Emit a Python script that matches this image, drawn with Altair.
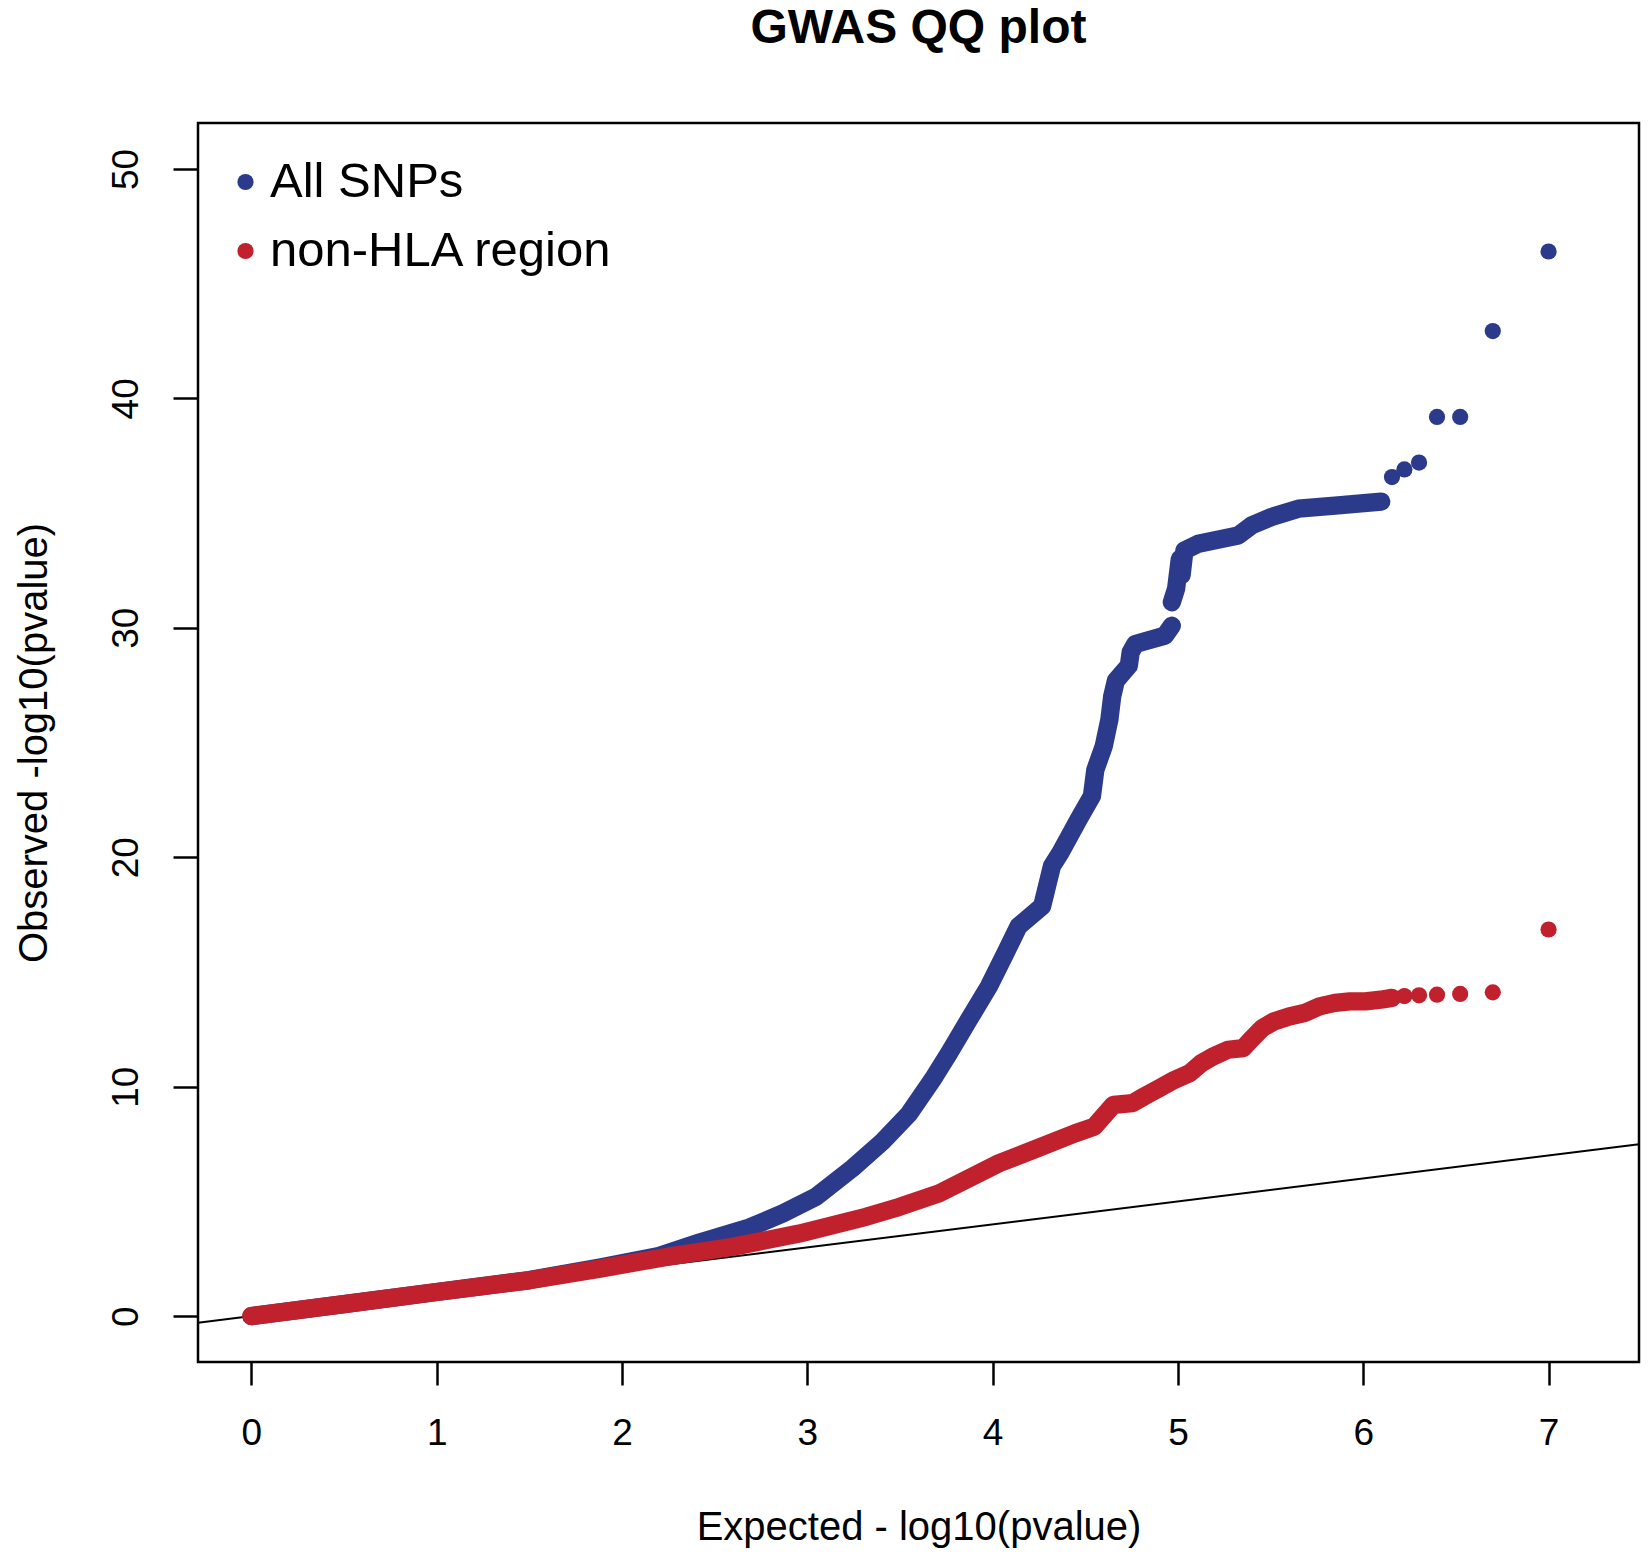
import altair as alt
import pandas as pd

# ---- data ----
series_names = ["All SNPs", "non-HLA region"]
series_colors = ["#2B3A8B", "#C1202D"]

# All SNPs: dense band, first stretch
all_band1_x = [0, 0.5, 1.0, 1.5, 1.881, 2.2, 2.419, 2.688, 2.867, 3.047, 3.244, 3.405,
               3.548, 3.675, 3.765, 3.872, 3.98, 4.07, 4.14, 4.267, 4.32, 4.366, 4.464,
               4.536, 4.554, 4.60, 4.63, 4.645, 4.665, 4.735, 4.745, 4.77, 4.93, 4.967]
all_band1_y = [0, 0.52, 1.05, 1.57, 2.12, 2.62, 3.21, 3.86, 4.47, 5.2, 6.45, 7.6,
               8.81, 10.30, 11.46, 12.92, 14.37, 15.83, 16.99, 17.86, 19.61, 20.2, 21.65,
               22.67, 23.8, 24.85, 26.0, 27.0, 27.69, 28.35, 28.93, 29.29, 29.66, 30.09]
# All SNPs: dense band, second stretch (after the small gap)
all_band2_x = [4.967, 4.99, 5.02, 5.01, 5.035, 5.11, 5.325, 5.397, 5.505, 5.65, 5.864, 6.097]
all_band2_y = [31.11, 31.7, 32.3, 33.0, 33.37, 33.66, 34.02, 34.46, 34.83, 35.19, 35.33, 35.5]
# All SNPs: isolated top points
all_pts_x = [6.155, 6.222, 6.301, 6.398, 6.523, 6.699, 7.0]
all_pts_y = [36.57, 36.9, 37.2, 39.19, 39.19, 42.93, 46.4]

# non-HLA region: dense band
hla_band_x = [0, 0.5, 1.0, 1.5, 1.881, 2.24, 2.6, 2.957, 3.317, 3.496, 3.711, 4.034,
              4.24, 4.446, 4.549, 4.652, 4.755, 4.817, 4.899, 4.982, 5.064, 5.126, 5.188,
              5.27, 5.352, 5.393, 5.455, 5.517, 5.6, 5.682, 5.764, 5.847, 5.929, 6.011,
              6.094, 6.155]
hla_band_y = [0, 0.52, 1.05, 1.56, 2.07, 2.58, 3.02, 3.60, 4.33, 4.76, 5.35, 6.66,
              7.31, 7.97, 8.26, 9.21, 9.28, 9.57, 9.93, 10.30, 10.59, 11.02, 11.31,
              11.61, 11.68, 12.04, 12.55, 12.84, 13.06, 13.21, 13.50, 13.65, 13.72, 13.72,
              13.79, 13.87]
# non-HLA region: isolated top points
hla_pts_x = [6.222, 6.301, 6.398, 6.523, 6.699, 7.0]
hla_pts_y = [13.95, 13.98, 14.01, 14.04, 14.11, 16.85]

x_ticks = [0, 1, 2, 3, 4, 5, 6, 7]
y_ticks = [0, 10, 20, 30, 40, 50]
x_domain = [-0.288, 7.488]
y_domain = [-2, 52]

# ---- tables ----
rows = []
for x, y in zip(all_band1_x, all_band1_y):
    rows.append(dict(x=x, y=y, series=series_names[0], seg="a1", kind="band"))
for x, y in zip(all_band2_x, all_band2_y):
    rows.append(dict(x=x, y=y, series=series_names[0], seg="a2", kind="band"))
for x, y in zip(all_pts_x, all_pts_y):
    rows.append(dict(x=x, y=y, series=series_names[0], seg="ap", kind="point"))
for x, y in zip(hla_band_x, hla_band_y):
    rows.append(dict(x=x, y=y, series=series_names[1], seg="h1", kind="band"))
for x, y in zip(hla_pts_x, hla_pts_y):
    rows.append(dict(x=x, y=y, series=series_names[1], seg="hp", kind="point"))
df = pd.DataFrame(rows)

# identity reference line y = x across the full x range
ref = pd.DataFrame({"x": x_domain, "y": x_domain})

FONT = "Liberation Sans"

x_enc = alt.X(
    "x:Q",
    scale=alt.Scale(domain=x_domain, nice=False, zero=False),
    axis=alt.Axis(
        values=x_ticks, format="d", grid=False, domain=False,
        tickSize=23, tickWidth=2.5, tickColor="black",
        labelFontSize=37, labelFont=FONT, labelColor="black",
        labelBaseline="alphabetic", labelPadding=59, labelFlush=False,
        title="Expected - log10(pvalue)", titleFont=FONT, titleFontSize=40,
        titleFontWeight="normal", titleColor="black",
        titleBaseline="alphabetic", titleY=177,
    ),
)
y_enc = alt.Y(
    "y:Q",
    scale=alt.Scale(domain=y_domain, nice=False, zero=False),
    axis=alt.Axis(
        values=y_ticks, format="d", grid=False, domain=False,
        tickSize=25, tickWidth=2.5, tickColor="black",
        labelFontSize=37, labelFont=FONT, labelColor="black",
        labelAngle=270, labelAlign="center", labelBaseline="alphabetic",
        labelPadding=36, labelFlush=False,
        title="Observed -log10(pvalue)", titleFont=FONT, titleFontSize=40,
        titleFontWeight="normal", titleColor="black",
        titleAngle=270, titleAlign="center", titleBaseline="alphabetic",
        titleX=-152, titleY=619.5,
    ),
)

color_scale = alt.Scale(domain=series_names, range=series_colors)

base = alt.Chart(df)

ref_line = alt.Chart(ref).mark_line(color="black", strokeWidth=2).encode(x=x_enc, y=y_enc)

band_all = base.transform_filter(
    (alt.datum.kind == "band") & (alt.datum.series == series_names[0])
).mark_line(strokeWidth=18.3, strokeCap="round", strokeJoin="round",
            color=series_colors[0]).encode(
    x=x_enc, y=y_enc, detail="seg:N",
)

band_hla = base.transform_filter(
    (alt.datum.kind == "band") & (alt.datum.series == series_names[1])
).mark_line(strokeWidth=18.3, strokeCap="round", strokeJoin="round",
            color=series_colors[1]).encode(
    x=x_enc, y=y_enc, detail="seg:N",
)

pts = base.transform_filter(alt.datum.kind == "point").mark_circle(
    size=263, opacity=1
).encode(
    x=x_enc, y=y_enc,
    color=alt.Color(
        "series:N", scale=color_scale,
        legend=alt.Legend(
            title=None, orient="none", legendX=23, legendY=34.5, padding=0,
            symbolType="circle", symbolSize=263, symbolStrokeWidth=0,
            symbolOpacity=1,
            labelFont=FONT, labelFontSize=49, labelColor="black",
            labelOffset=0, rowPadding=19, labelLimit=900,
        ),
    ),
)

chart = alt.layer(ref_line, band_all, band_hla, pts).properties(
    width=1441, height=1239,
    title=alt.TitleParams(
        "GWAS QQ plot", font=FONT, fontSize=48, fontWeight="bold", color="black",
        anchor="middle", baseline="alphabetic", offset=32,
    ),
    padding={"left": 190, "top": 115, "right": 3, "bottom": 186},
    autosize=alt.AutoSizeParams(type="none"),
    background="white",
).configure_view(
    stroke="black", strokeWidth=2.5, fill="white"
)

chart.save("out.html", embed_options={"renderer": "svg", "actions": False})
